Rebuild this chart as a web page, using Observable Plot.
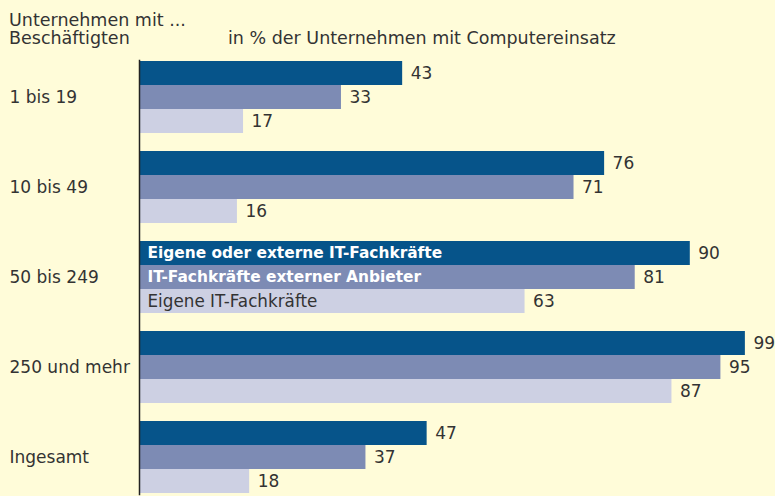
<!DOCTYPE html>
<html>
<head>
<meta charset="utf-8">
<script src="https://cdn.jsdelivr.net/npm/d3@7"></script>
<script src="https://cdn.jsdelivr.net/npm/@observablehq/plot@0.6"></script>
<style>
  html, body { margin:0; padding:0; background:#fffcd9; }
  #wrap { position:relative; width:775px; height:496px; overflow:hidden; font-family:"DejaVu Sans", sans-serif; color:#333; }
  .hdr { position:absolute; font-size:17.5px; line-height:18px; white-space:nowrap; }
</style>
</head>
<body>
<div id="wrap">
  <div class="hdr" style="left:9px; top:11px;">Unternehmen mit ...<br>Beschäftigten</div>
  <div class="hdr" style="left:228px; top:29px;">in % der Unternehmen mit Computereinsatz</div>
</div>
<script>
const categories = ["1 bis 19", "10 bis 49", "50 bis 249", "250 und mehr", "Ingesamt"];
const series = ["Eigene oder externe IT-Fachkräfte", "IT-Fachkräfte externer Anbieter", "Eigene IT-Fachkräfte"];
const valuesOwnOrExternal = [43, 76, 90, 99, 47];
const valuesExternal = [33, 71, 81, 95, 37];
const valuesOwn = [17, 16, 63, 87, 18];
const colors = ["#06548a", "#7d8bb4", "#cdd0e3"];
const legendCategory = "50 bis 249";

const seriesValues = [valuesOwnOrExternal, valuesExternal, valuesOwn];
const data = categories.flatMap((cat, i) => series.map((s, j) => ({cat, series: s, value: seriesValues[j][i]})));
const legendRows = data.filter(d => d.cat === legendCategory);

const chart = Plot.plot({
  width: 775,
  height: 496,
  marginTop: 58,
  marginBottom: 0,
  marginLeft: 139,
  marginRight: 24,
  style: {background: "transparent", fontFamily: "'DejaVu Sans', sans-serif", color: "#333", overflow: "visible"},
  x: {domain: [0, 100], axis: null},
  y: {domain: series, axis: null, padding: 0},
  fy: {domain: categories, axis: null, paddingInner: 0.1736, paddingOuter: 0},
  color: {domain: series, range: colors},
  marks: [
    Plot.barX(data, {x: "value", y: "series", fy: "cat", fill: "series"}),
    Plot.text(data, {x: "value", y: "series", fy: "cat", text: d => String(d.value), textAnchor: "start", dx: 8, fill: "#333", fontSize: 17}),
    Plot.text(legendRows.slice(0, 2), {x: 0, y: "series", fy: "cat", text: "series", textAnchor: "start", dx: 8, fill: "white", fontWeight: "bold", fontSize: 15.4}),
    Plot.text(legendRows.slice(2), {x: 0, y: "series", fy: "cat", text: "series", textAnchor: "start", dx: 8, fill: "#333", fontSize: 16.8}),
    Plot.text(categories, {fy: d => d, frameAnchor: "left", textAnchor: "start", dx: -130, fill: "#333", fontSize: 17}),
    Plot.frame({anchor: "left", facet: "super", stroke: "#222", strokeWidth: 1.5})
  ]
});
chart.style.position = "absolute";
chart.style.left = "0px";
chart.style.top = "0px";
document.getElementById("wrap").appendChild(chart);
</script>
</body>
</html>
